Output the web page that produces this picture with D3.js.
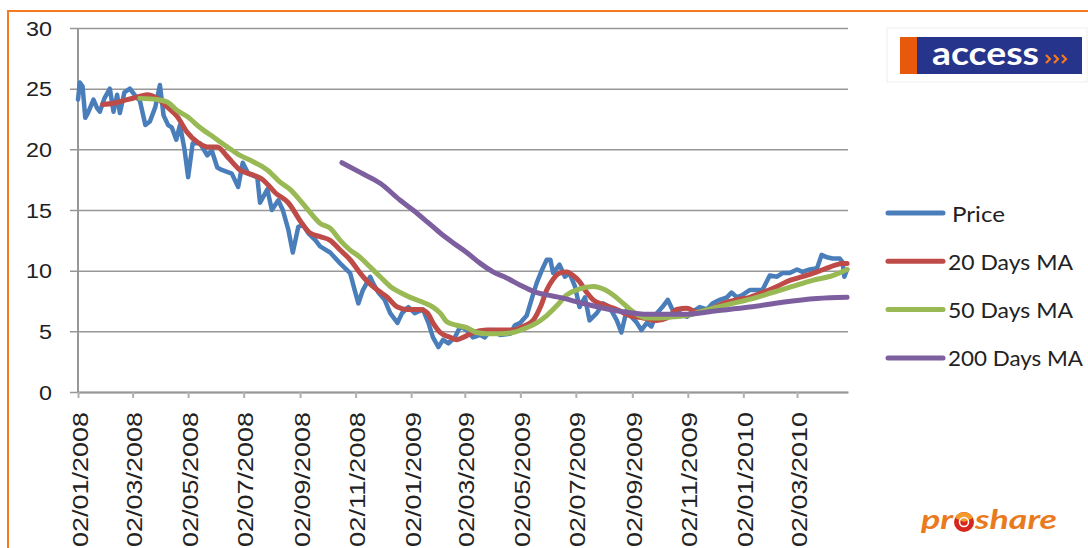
<!DOCTYPE html>
<html>
<head>
<meta charset="utf-8">
<script src="https://cdnjs.cloudflare.com/ajax/libs/d3/7.8.5/d3.min.js"></script>
<style>
    body { margin: 0; background: #fff; }
    svg { display: block; font-family: Lato, "Open Sans", sans-serif; }
</style>
</head>
<body>
<svg id="chart"></svg>
<script>
// day offsets are counted from 02/01/2008
const startDate = "2008-01-02";
const endDate = "2010-04-27";

const price = [
    [0,24.1],[2,25.5],[5,25.2],[8,22.6],[11,23.0],[17,24.1],[21,23.4],[24,23.1],[29,24.2],[35,25.0],
    [39,23.1],[43,24.5],[46,23.0],[51,24.7],[57,25.0],[63,24.4],[68,24.0],[74,22.0],[79,22.3],[85,23.5],
    [90,25.3],[94,22.8],[99,22.0],[103,21.8],[108,20.8],[112,22.0],[117,20.0],[121,17.7],[126,20.5],[134,20.5],
    [142,19.5],[147,19.9],[153,18.5],[158,18.3],[169,18.0],[176,16.9],[181,18.9],[187,18.0],[197,17.7],[200,15.6],
    [208,16.7],[213,15.0],[220,15.8],[225,15.0],[231,13.4],[236,11.5],[242,13.6],[247,13.8],[253,13.1],[261,12.5],
    [266,12.0],[277,11.5],[288,10.6],[299,9.8],[304,8.4],[308,7.3],[313,8.4],[321,9.5],[324,9.0],[330,8.2],
    [337,7.6],[343,6.5],[351,5.7],[356,6.5],[363,7.0],[370,6.5],[379,6.8],[385,5.7],[390,4.5],[396,3.7],
    [401,4.3],[407,4.0],[414,4.5],[420,5.4],[427,5.1],[434,4.5],[442,4.7],[447,4.5],[453,5.1],[464,4.7],
    [475,4.8],[480,5.5],[486,5.7],[493,6.3],[499,7.8],[504,9.0],[510,10.1],[515,10.9],[519,10.9],[522,9.8],
    [527,10.3],[529,10.5],[535,9.5],[540,9.8],[546,8.7],[551,7.0],[557,7.8],[562,5.9],[570,6.5],[577,7.3],
    [584,7.0],[592,5.9],[597,4.9],[603,6.8],[608,6.2],[614,5.7],[619,5.1],[625,5.7],[630,5.4],[636,6.5],
    [642,7.0],[648,7.6],[653,6.8],[661,6.5],[669,6.2],[675,6.6],[683,7.0],[691,6.8],[697,7.3],[705,7.6],
    [713,7.8],[718,8.2],[724,7.8],[730,8.0],[738,8.4],[746,8.4],[752,8.4],[760,9.6],[768,9.5],[774,9.8],
    [782,9.8],[790,10.1],[796,9.9],[804,10.1],[812,10.2],[817,11.3],[823,11.1],[829,11.0],[837,11.0],[840,10.7],
    [842,9.5],[845,10.1]
];

const ma20 = [
    [27,23.7],[39,23.8],[54,24.1],[65,24.3],[76,24.5],[87,24.2],[98,23.5],[109,22.7],[120,21.4],[131,20.6],
    [142,20.2],[153,20.2],[164,19.4],[178,18.3],[192,17.9],[203,17.5],[217,16.4],[231,15.6],[246,13.9],[255,13.1],
    [266,12.8],[277,12.5],[288,11.7],[299,10.9],[310,9.8],[318,9.1],[329,8.4],[340,7.8],[351,7.0],[362,6.8],
    [376,6.8],[384,6.5],[390,5.7],[398,4.9],[409,4.5],[416,4.3],[423,4.5],[434,4.9],[449,5.1],[464,5.1],
    [478,5.1],[489,5.4],[500,5.9],[508,7.0],[515,8.4],[522,9.3],[529,9.8],[537,9.9],[544,9.6],[551,9.1],
    [559,8.2],[566,7.6],[577,7.2],[592,6.8],[606,6.3],[621,6.1],[636,5.9],[647,6.1],[658,6.8],[669,6.9],
    [680,6.6],[694,6.8],[709,7.3],[724,7.6],[738,7.8],[752,8.2],[768,8.7],[782,9.2],[796,9.5],[812,9.9],
    [826,10.3],[840,10.6],[845,10.6]
];

const ma50 = [
    [68,24.2],[87,24.1],[98,23.9],[109,23.2],[120,22.7],[134,21.8],[149,21.0],[164,20.2],[178,19.5],[192,19.0],
    [208,18.3],[222,17.3],[233,16.7],[244,15.8],[255,14.8],[266,13.9],[277,13.5],[288,12.5],[299,11.7],[310,11.1],
    [321,10.3],[332,9.5],[343,8.7],[354,8.2],[365,7.8],[379,7.4],[390,7.0],[398,6.5],[405,5.8],[416,5.5],
    [427,5.3],[438,4.9],[449,4.8],[464,4.8],[478,4.9],[493,5.3],[504,5.7],[515,6.3],[526,7.1],[537,8.0],
    [551,8.5],[566,8.7],[573,8.6],[588,8.0],[599,7.3],[610,6.6],[625,6.1],[639,6.1],[654,6.2],[669,6.3],
    [683,6.6],[698,6.9],[719,7.3],[741,7.7],[763,8.2],[785,8.7],[807,9.2],[829,9.6],[845,10.1]
];

const ma200 = [
    [290,18.9],[310,18.1],[332,17.2],[354,15.8],[368,15.0],[384,14.0],[398,13.1],[412,12.3],[427,11.5],[442,10.6],
    [456,9.9],[471,9.4],[486,8.8],[500,8.3],[515,8.0],[529,7.8],[555,7.3],[592,6.7],[628,6.4],[665,6.4],
    [702,6.7],[738,7.0],[774,7.4],[812,7.7],[845,7.8]
];

const seriesNames = ["Price", "20 Days MA", "50 Days MA", "200 Days MA"];
const seriesColors = ["#4A7EBB", "#BE4B48", "#98B954", "#7D5FA0"];

const xTickDates = ["2008-01-02", "2008-03-02", "2008-05-02", "2008-07-02", "2008-09-02", "2008-11-02", "2009-01-02",
    "2009-03-02", "2009-05-02", "2009-07-02", "2009-09-02", "2009-11-02", "2010-01-02", "2010-03-02"];
const yTicks = [0, 5, 10, 15, 20, 25, 30];


class Chart {

    constructor(){
        this.width = 1088;
        this.height = 548;
        this.plot = ({left: 78, right: 848, top: 28, bottom: 392});
        this.parse = d3.timeParse("%Y-%m-%d");
        this.start = this.parse(startDate);

        this.svg = d3.select("#chart")
            .attr("width", this.width)
            .attr("height", this.height);

        this.xScale = d3.scaleTime()
            .domain([this.start, this.parse(endDate)])
            .range([this.plot.left, this.plot.right]);

        this.yScale = d3.scaleLinear()
            .domain([0, 30])
            .range([this.plot.bottom, this.plot.top]);

        this.drawFrame();
        this.drawAxes();
        this.drawLines();
        this.drawLegend();
        this.drawLogos();
    }

    // orange border on top and left
    drawFrame(){
        this.svg.append("path")
            .attr("d", `M8,${this.height} L8,11 L${this.width},11`)
            .attr("fill", "none")
            .attr("stroke", "#F47920")
            .attr("stroke-width", 2);
    }

    drawAxes(){
        let yAxis = d3.axisLeft(this.yScale)
            .tickValues(yTicks)
            .tickSizeInner(-(this.plot.right - 70))
            .tickSizeOuter(0)
            .tickPadding(18);

        let yg = this.svg.append("g")
            .attr("transform", "translate(70,0)")
            .call(yAxis);
        yg.select(".domain").remove();
        yg.selectAll("line")
            .attr("stroke", "#979797")
            .attr("stroke-width", 1.5);
        yg.selectAll("text")
            .attr("fill", "#222")
            .attr("font-size", 19.5)
            .attr("dy", 7)
            .attr("textLength", d => String(d).length * 13)
            .attr("lengthAdjust", "spacingAndGlyphs");

        // vertical axis line
        this.svg.append("line")
            .attr("x1", this.plot.left).attr("x2", this.plot.left)
            .attr("y1", this.plot.top).attr("y2", this.plot.bottom)
            .attr("stroke", "#979797")
            .attr("stroke-width", 2);

        let xAxis = d3.axisBottom(this.xScale)
            .tickValues(xTickDates.map(this.parse))
            .tickFormat(d3.timeFormat("%d/%m/%Y"))
            .tickSizeInner(6)
            .tickSizeOuter(0);

        let xg = this.svg.append("g")
            .attr("transform", `translate(0,${this.plot.bottom})`)
            .call(xAxis);
        xg.select(".domain")
            .attr("stroke", "#979797")
            .attr("stroke-width", 2);
        xg.selectAll("line")
            .attr("stroke", "#B0B0B0")
            .attr("stroke-width", 2);
        xg.selectAll("text")
            .attr("fill", "#222")
            .attr("font-size", 22)
            .attr("text-anchor", "end")
            .attr("x", 0)
            .attr("y", 0)
            .attr("dy", 0)
            .attr("transform", "translate(9,20) rotate(-90)")
            .attr("textLength", 135)
            .attr("lengthAdjust", "spacingAndGlyphs");
    }

    drawLines(){
        let toPoint = d => [this.xScale(d3.timeDay.offset(this.start, d[0])), this.yScale(d[1])];
        let lineGen = d3.line()
            .x(d => toPoint(d)[0])
            .y(d => toPoint(d)[1]);
        let smoothGen = d3.line()
            .x(d => toPoint(d)[0])
            .y(d => toPoint(d)[1])
            .curve(d3.curveMonotoneX);

        let allSeries = [price, ma20, ma50, ma200];

        this.svg.append("g")
            .selectAll("path")
            .data(allSeries)
            .join("path")
            .attr("d", (d, i) => i === 0 ? lineGen(d) : smoothGen(d))
            .attr("fill", "none")
            .attr("stroke", (d, i) => seriesColors[i])
            .attr("stroke-width", (d, i) => i === 0 ? 4.5 : 5)
            .attr("stroke-linejoin", "round")
            .attr("stroke-linecap", "round");
    }

    drawLegend(){
        let legend = this.svg.append("g")
            .selectAll("g")
            .data(seriesNames)
            .join("g")
            .attr("transform", (d, i) => `translate(888,${213 + i * 48.3})`);

        legend.append("line")
            .attr("x1", 0).attr("x2", 55)
            .attr("stroke", (d, i) => seriesColors[i])
            .attr("stroke-width", 5)
            .attr("stroke-linecap", "round");

        legend.append("text")
            .attr("x", (d, i) => i === 0 ? 64 : 60)
            .attr("y", 8.5)
            .attr("font-size", 21)
            .attr("fill", "#222")
            .attr("textLength", (d, i) => [53, 125, 125, 135][i])
            .attr("lengthAdjust", "spacingAndGlyphs")
            .text(d => d);
    }

    drawLogos(){
        // access bank logo, top right
        let access = this.svg.append("g");
        access.append("rect")
            .attr("x", 887).attr("y", 28).attr("width", 200).attr("height", 54)
            .attr("fill", "#fff").attr("stroke", "#eee");
        access.append("rect")
            .attr("x", 900).attr("y", 37).attr("width", 18).attr("height", 37)
            .attr("fill", "#E8590C");
        access.append("rect")
            .attr("x", 917).attr("y", 37).attr("width", 165).attr("height", 37)
            .attr("fill", "#27348B");
        access.append("text")
            .attr("x", 932).attr("y", 65)
            .attr("font-size", 33)
            .attr("font-weight", 700)
            .attr("fill", "#fff")
            .attr("textLength", 107)
            .attr("lengthAdjust", "spacingAndGlyphs")
            .text("access");
        access.selectAll(".chev")
            .data([0, 1, 2])
            .join("path")
            .attr("d", d => `M${1046 + d * 8},55 l4,4 l-4,4`)
            .attr("fill", "none")
            .attr("stroke", "#F47920")
            .attr("stroke-width", 2.2);

        // proshare logo, bottom right
        let pro = this.svg.append("g")
            .attr("fill", "#EA7A1E")
            .attr("font-size", 27)
            .attr("font-weight", 700)
            .attr("font-style", "italic");
        pro.append("text")
            .attr("x", 921).attr("y", 529)
            .attr("textLength", 32)
            .attr("lengthAdjust", "spacingAndGlyphs")
            .text("pr");
        pro.append("text")
            .attr("x", 975).attr("y", 529)
            .attr("textLength", 82)
            .attr("lengthAdjust", "spacingAndGlyphs")
            .text("share");
        pro.append("circle")
            .attr("cx", 964).attr("cy", 522).attr("r", 10)
            .attr("fill", "#D7261E");
        pro.append("path")
            .attr("d", "M955,518 A10,10 0 0 1 973,518 L964,522 Z")
            .attr("fill", "#F39A2B");
        pro.append("circle")
            .attr("cx", 964).attr("cy", 522).attr("r", 4.5)
            .attr("fill", "none")
            .attr("stroke", "#fff")
            .attr("stroke-width", 1.6);
    }
}

new Chart();
</script>
</body>
</html>
